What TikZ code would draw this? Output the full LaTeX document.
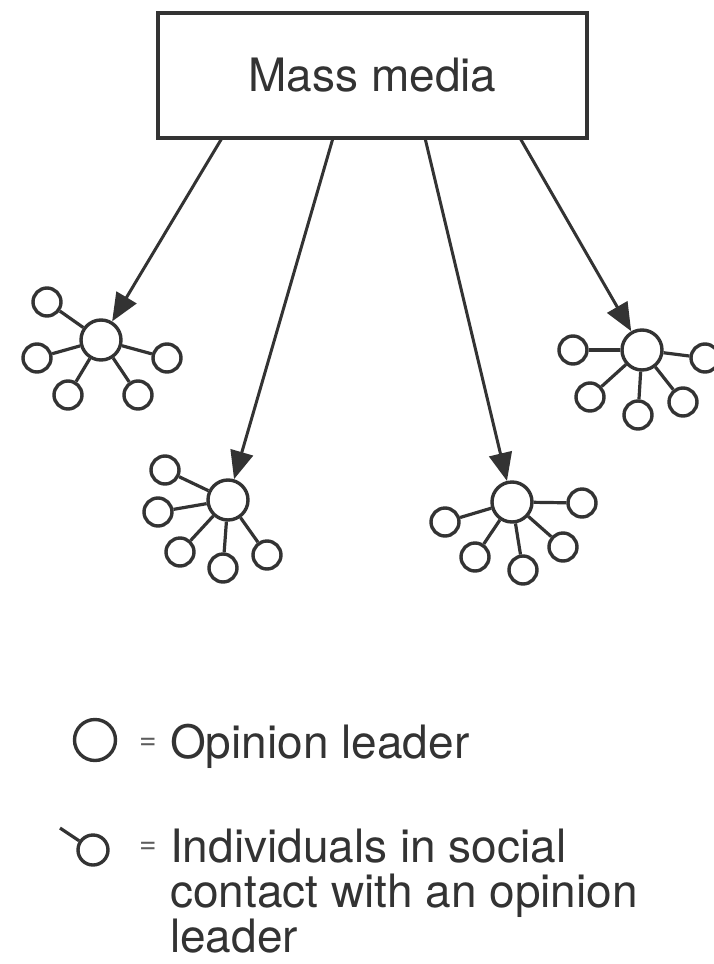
\documentclass[tikz,border=0pt]{standalone}
\usepackage{fontspec}
\setmainfont{TeX Gyre Heros}
\usetikzlibrary{arrows.meta}
\definecolor{ink}{HTML}{333333}
\tikzset{
  leader/.style={circle, draw=ink, line width=3.4pt, minimum size=40pt, inner sep=0pt},
  follower/.style={circle, draw=ink, line width=3.4pt, minimum size=28pt, inner sep=0pt},
  tie/.style={draw=ink, line width=3.2pt},
  media/.style={draw=ink, line width=3.4pt, minimum width=429pt, minimum height=125pt, inner sep=0pt, text=ink, font=\fontsize{46}{52}\selectfont},
  flow/.style={draw=ink, line width=3pt, -{Triangle[length=28pt,width=23pt]}},
  legtext/.style={anchor=base west, inner sep=0pt, text=ink, font=\fontsize{46}{52}\selectfont},
  eqtext/.style={inner sep=0pt, text=ink!80, font=\fontsize{30}{34}\selectfont}
}
\begin{document}
\begin{tikzpicture}[x=1pt, y=-1pt]
\useasboundingbox[fill=white] (0,0) rectangle (713,964);

\node[media] (box) at (372.5,75.5) {Mass media};

\coordinate (s1) at (222,138);
\coordinate (s2) at (333,138);
\coordinate (s3) at (425,138);
\coordinate (s4) at (520,138);

% cluster 1
\node[leader] (L1) at (101,340) {};
\node[follower] (f11) at (47,302) {};
\node[follower] (f12) at (37,358) {};
\node[follower] (f13) at (68,395) {};
\node[follower] (f14) at (138,395) {};
\node[follower] (f15) at (167,358) {};
% cluster 2
\node[leader] (L2) at (228,500) {};
\node[follower] (f21) at (165,470) {};
\node[follower] (f22) at (158,512) {};
\node[follower] (f23) at (180,552) {};
\node[follower] (f24) at (223,568) {};
\node[follower] (f25) at (267,555) {};
% cluster 3
\node[leader] (L3) at (512,502) {};
\node[follower] (f31) at (445,522) {};
\node[follower] (f32) at (475,557) {};
\node[follower] (f33) at (523,570) {};
\node[follower] (f34) at (563,547) {};
\node[follower] (f35) at (582,503) {};
% cluster 4
\node[leader] (L4) at (642,350) {};
\node[follower] (f41) at (573,350) {};
\node[follower] (f42) at (590,397) {};
\node[follower] (f43) at (638,415) {};
\node[follower] (f44) at (683,402) {};
\node[follower] (f45) at (705,358) {};

\foreach \c in {1,2,3,4}{
  \foreach \k in {1,...,5}{
    \draw[tie] (L\c) -- (f\c\k);
  }
}

\draw[flow] (s1) -- (L1);
\draw[flow] (s2) -- (L2);
\draw[flow] (s3) -- (L3);
\draw[flow] (s4) -- (L4);

% legend
\node[leader, minimum size=41pt] (legL) at (95,740) {};
\node[eqtext] (eq1) at (148,744) {=};
\node[legtext] (t1) at (170,758) {Opinion leader};

\coordinate (legA) at (60,828);
\node[follower, minimum size=30pt] (legF) at (93,850) {};
\draw[tie] (legA) -- (legF);
\node[eqtext] (eq2) at (148,848) {=};
\node[legtext] (t2) at (170,862) {Individuals in social};
\node[legtext] (t3) at (170,907) {contact with an opinion};
\node[legtext] (t4) at (170,952) {leader};
\end{tikzpicture}
\end{document}
